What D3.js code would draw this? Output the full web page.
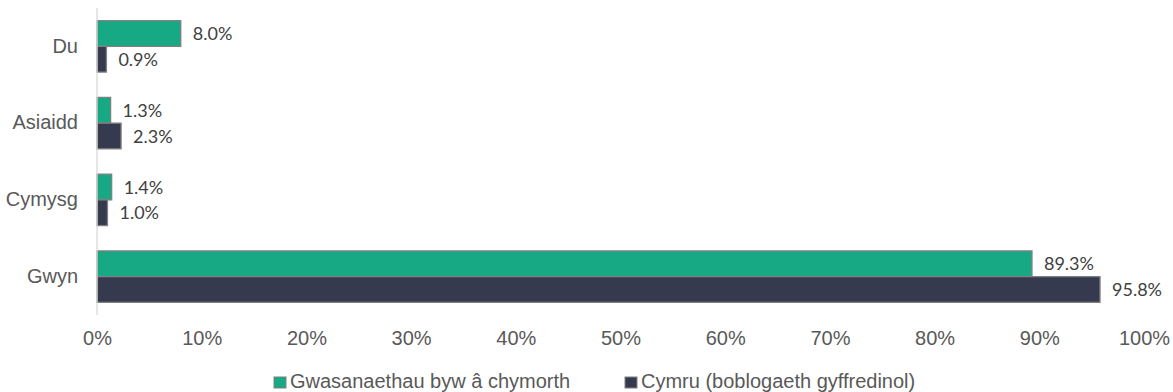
<!DOCTYPE html>
<html>
<head>
<meta charset="utf-8">
<script src="https://cdn.jsdelivr.net/npm/d3@7/dist/d3.min.js"></script>
<style>
  body { margin: 0; background: #fff; }
  svg { display: block; }
</style>
</head>
<body>
<svg id="chart" width="1173" height="392"></svg>
<script>
// Ethnic group breakdown: supported living services vs Wales population
const categories = ["Du", "Asiaidd", "Cymysg", "Gwyn"];
const seriesNames = ["Gwasanaethau byw â chymorth", "Cymru (boblogaeth gyffredinol)"];
const supportedLiving = [8.0, 1.3, 1.4, 89.3];
const walesPopulation = [0.9, 2.3, 1.0, 95.8];
const tickValues = [0, 10, 20, 30, 40, 50, 60, 70, 80, 90, 100];
const colors = ["#17A984", "#363A4F"];

const series = [supportedLiving, walesPopulation];

const svg = d3.select("#chart");
const plotLeft = 97, plotRight = 1144, plotTop = 8, plotBottom = 315;

const x = d3.scaleLinear().domain([0, 100]).range([plotLeft, plotRight]);
const y = d3.scaleBand().domain(categories).range([plotTop, plotBottom]).paddingInner(0.33).paddingOuter(0.165);
const inner = d3.scaleBand().domain(d3.range(series.length)).range([0, y.bandwidth()]);

// Bars and value labels
series.forEach((vals, si) => {
  const rows = categories.map((c, i) => ({ c, v: vals[i] }));
  svg.append("g").selectAll("rect")
    .data(rows)
    .join("rect")
    .attr("x", x(0))
    .attr("y", d => y(d.c) + inner(si))
    .attr("width", d => x(d.v) - x(0))
    .attr("height", inner.bandwidth())
    .attr("fill", colors[si])
    .attr("stroke", "#808080")
    .attr("stroke-width", 1.3);

  svg.append("g").selectAll("text")
    .data(rows)
    .join("text")
    .attr("x", d => x(d.v) + 12)
    .attr("y", d => y(d.c) + inner(si) + inner.bandwidth() / 2 + 2)
    .attr("dominant-baseline", "middle")
    .attr("font-family", "Lato, 'Open Sans', sans-serif")
    .attr("font-size", 18)
    .attr("fill", "#404040")
    .text(d => d.v.toFixed(1) + "%");
});

// Vertical axis line
svg.append("line")
  .attr("x1", x(0)).attr("x2", x(0))
  .attr("y1", plotTop).attr("y2", plotBottom)
  .attr("stroke", "#d9d9d9").attr("stroke-width", 1.3);

// Category labels
svg.append("g").selectAll("text")
  .data(categories)
  .join("text")
  .attr("x", x(0) - 19)
  .attr("y", d => y(d) + y.bandwidth() / 2 + 1)
  .attr("text-anchor", "end")
  .attr("dominant-baseline", "middle")
  .attr("font-family", "'Liberation Sans', Arial, sans-serif")
  .attr("font-size", 20)
  .attr("fill", "#595959")
  .text(d => d);

// X axis tick labels
const xAxis = d3.axisBottom(x).tickValues(tickValues).tickSize(0).tickPadding(0).tickFormat(d => d + "%");
const gx = svg.append("g").attr("transform", "translate(0, 340)").call(xAxis);
gx.select(".domain").remove();
gx.selectAll("text")
  .attr("font-family", "'Liberation Sans', Arial, sans-serif")
  .attr("font-size", 20)
  .attr("fill", "#595959")
  .attr("dy", null)
  .attr("dominant-baseline", "middle");

// Legend
const legendItems = [{ name: seriesNames[0], x: 274 }, { name: seriesNames[1], x: 625 }];
const lg = svg.append("g").selectAll("g").data(legendItems).join("g")
  .attr("transform", d => `translate(${d.x}, 383)`);
lg.append("rect")
  .attr("x", 0).attr("y", -6).attr("width", 12).attr("height", 11)
  .attr("fill", (d, i) => colors[i]).attr("stroke", "#808080").attr("stroke-width", 1);
lg.append("text")
  .attr("x", 16).attr("y", 0)
  .attr("dominant-baseline", "middle")
  .attr("font-family", "'Liberation Sans', Arial, sans-serif")
  .attr("font-size", 20)
  .attr("fill", "#595959")
  .text(d => d.name);
</script>
</body>
</html>
